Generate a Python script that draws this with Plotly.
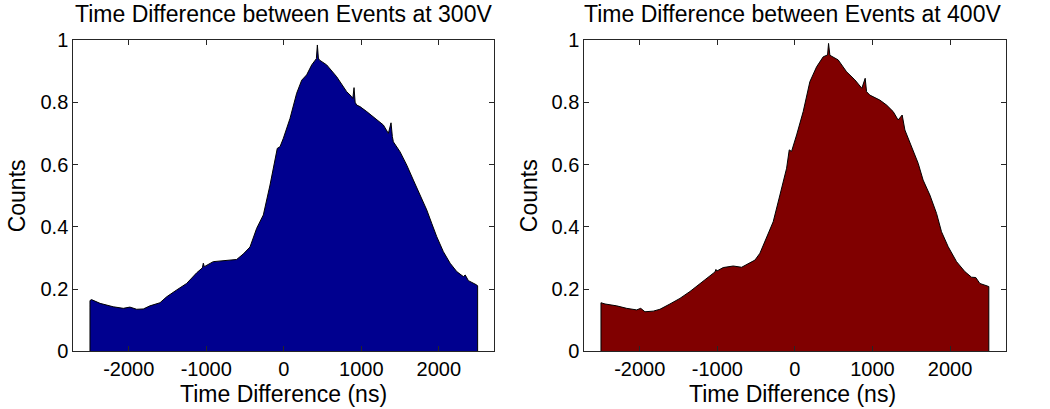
import plotly.graph_objects as go

# ---- data (time in ns, normalised counts) ----
left_time = [-2500, -2500, -2480, -2370, -2200, -2070, -1985, -1898, -1812, -1726, -1597, -1511,
             -1382, -1253, -1124, -1050, -1038, -1025, -910, -737, -608, -521, -436, -350,
             -264, -178, -135, -84, -49, -6, 80, 166, 231, 295, 360, 403, 420, 433, 446,
             458, 553, 682, 811, 876, 890, 906, 920, 940, 983, 1070, 1199, 1284, 1349,
             1383, 1400, 1413, 1499, 1586, 1671, 1757, 1844, 1908, 1973, 2058, 2145, 2231,
             2316, 2340, 2381, 2489, 2500, 2500]
left_counts = [0.0, 0.163, 0.166, 0.154, 0.143, 0.138, 0.142, 0.135, 0.136, 0.146, 0.156, 0.175,
               0.197, 0.218, 0.252, 0.268, 0.283, 0.272, 0.288, 0.293, 0.295, 0.313, 0.335, 0.395,
               0.438, 0.534, 0.588, 0.652, 0.657, 0.684, 0.748, 0.829, 0.871, 0.888, 0.920, 0.936, 0.940, 0.984, 0.942,
               0.936, 0.920, 0.882, 0.834, 0.818, 0.812, 0.847, 0.800, 0.791, 0.786, 0.770, 0.743, 0.727, 0.700,
               0.734, 0.690, 0.673, 0.641, 0.598, 0.550, 0.502, 0.454, 0.411, 0.368, 0.320, 0.283, 0.256,
               0.240, 0.245, 0.227, 0.213, 0.210, 0.0]

right_time = [-2500, -2500, -2448, -2298, -2169, -2040, -1988, -1933, -1826, -1740, -1611, -1482,
              -1353, -1224, -1095, -1030, -1018, -1005, -924, -795, -687, -580, -515, -451, -365,
              -280, -193, -107, -73, -43, 22, 107, 193, 280, 365, 421, 434, 451, 558, 666,
              773, 838, 863, 906, 924, 966, 1095, 1182, 1267, 1331, 1383, 1418, 1504, 1589,
              1653, 1740, 1826, 1890, 1976, 2084, 2191, 2277, 2332, 2384, 2478, 2500, 2500]
right_counts = [0.0, 0.156, 0.152, 0.146, 0.138, 0.133, 0.138, 0.127, 0.129, 0.135, 0.152, 0.170,
                0.192, 0.218, 0.245, 0.255, 0.263, 0.258, 0.269, 0.274, 0.270, 0.283, 0.293, 0.315, 0.368,
                0.416, 0.502, 0.588, 0.647, 0.642, 0.695, 0.770, 0.866, 0.914, 0.946, 0.952, 0.989, 0.951, 0.936, 0.898,
                0.872, 0.855, 0.845, 0.877, 0.834, 0.823, 0.807, 0.791, 0.770, 0.743, 0.759, 0.711, 0.657, 0.604,
                0.550, 0.502, 0.443, 0.384, 0.336, 0.288, 0.256, 0.238, 0.237, 0.218, 0.210, 0.208, 0.0]

x_ticks = [-2000, -1000, 0, 1000, 2000]
x_tick_text = ["-2000", "-1000", "0", "1000", "2000"]
y_ticks = [0, 0.2, 0.4, 0.6, 0.8, 1]
y_tick_text = ["0", "0.2", "0.4", "0.6", "0.8", "1"]
titles = ["Time Difference between Events at 300V", "Time Difference between Events at 400V"]
x_label = "Time Difference (ns)"
y_label = "Counts"

W, H = 1050, 409
FONT = "Liberation Sans, Arial, Helvetica, sans-serif"
AX = "#262626"

fig = go.Figure()
fig.add_trace(go.Scatter(x=left_time, y=left_counts, mode="lines", fill="tozeroy",
                         fillcolor="rgb(0,0,143)", line=dict(color="black", width=1),
                         xaxis="x", yaxis="y", showlegend=False, hoverinfo="skip"))
fig.add_trace(go.Scatter(x=right_time, y=right_counts, mode="lines", fill="tozeroy",
                         fillcolor="rgb(128,0,0)", line=dict(color="black", width=1),
                         xaxis="x2", yaxis="y2", showlegend=False, hoverinfo="skip"))

dom_left = [73.3 / W, 494.3 / W]
dom_right = [584.3 / W, 1005.5 / W]
dom_y = [1 - 351.3 / H, 1 - 40 / H]

common_x = dict(range=[-2715, 2715], tickvals=x_ticks, ticktext=x_tick_text, ticks="inside", ticklen=5,
                tickcolor=AX, linecolor=AX, linewidth=1, mirror="ticks", showline=True,
                showgrid=False, zeroline=False, automargin=False,
                tickfont=dict(size=20, color="black", family=FONT))
common_y = dict(range=[0, 1], tickvals=y_ticks, ticktext=y_tick_text, ticks="inside", ticklen=5,
                tickcolor=AX, linecolor=AX, linewidth=1, mirror="ticks", showline=True,
                showgrid=False, zeroline=False, domain=dom_y, automargin=False,
                tickfont=dict(size=20, color="black", family=FONT))

fig.update_layout(
    width=W, height=H, margin=dict(l=0, r=0, t=0, b=0, autoexpand=False),
    paper_bgcolor="white", plot_bgcolor="white",
    font=dict(family=FONT, color="black"),
    xaxis=dict(domain=dom_left, anchor="y", **common_x),
    yaxis=dict(anchor="x", **common_y),
    xaxis2=dict(domain=dom_right, anchor="y2", **common_x),
    yaxis2=dict(anchor="x2", **common_y),
)

centers = [(dom_left[0] + dom_left[1]) / 2, (dom_right[0] + dom_right[1]) / 2 - 2 / W]
ylab_x = [16.7 / W, 528.5 / W]
for i in range(2):
    fig.add_annotation(text=titles[i], x=centers[i], y=1 - 14 / H, xref="paper", yref="paper",
                       showarrow=False, font=dict(size=23, family=FONT, color="black"),
                       xanchor="center", yanchor="middle")
    fig.add_annotation(text=x_label, x=centers[i], y=1 - 394 / H, xref="paper", yref="paper",
                       showarrow=False, font=dict(size=23, family=FONT, color="black"),
                       xanchor="center", yanchor="middle")
    fig.add_annotation(text=y_label, x=ylab_x[i], y=(dom_y[0] + dom_y[1]) / 2, xref="paper", yref="paper",
                       showarrow=False, textangle=-90, font=dict(size=23, family=FONT, color="black"),
                       xanchor="center", yanchor="middle")

fig.write_html("out.html", config={"displayModeBar": False, "staticPlot": True},
               post_script="document.body.style.margin='0';document.body.style.overflow='hidden';")
